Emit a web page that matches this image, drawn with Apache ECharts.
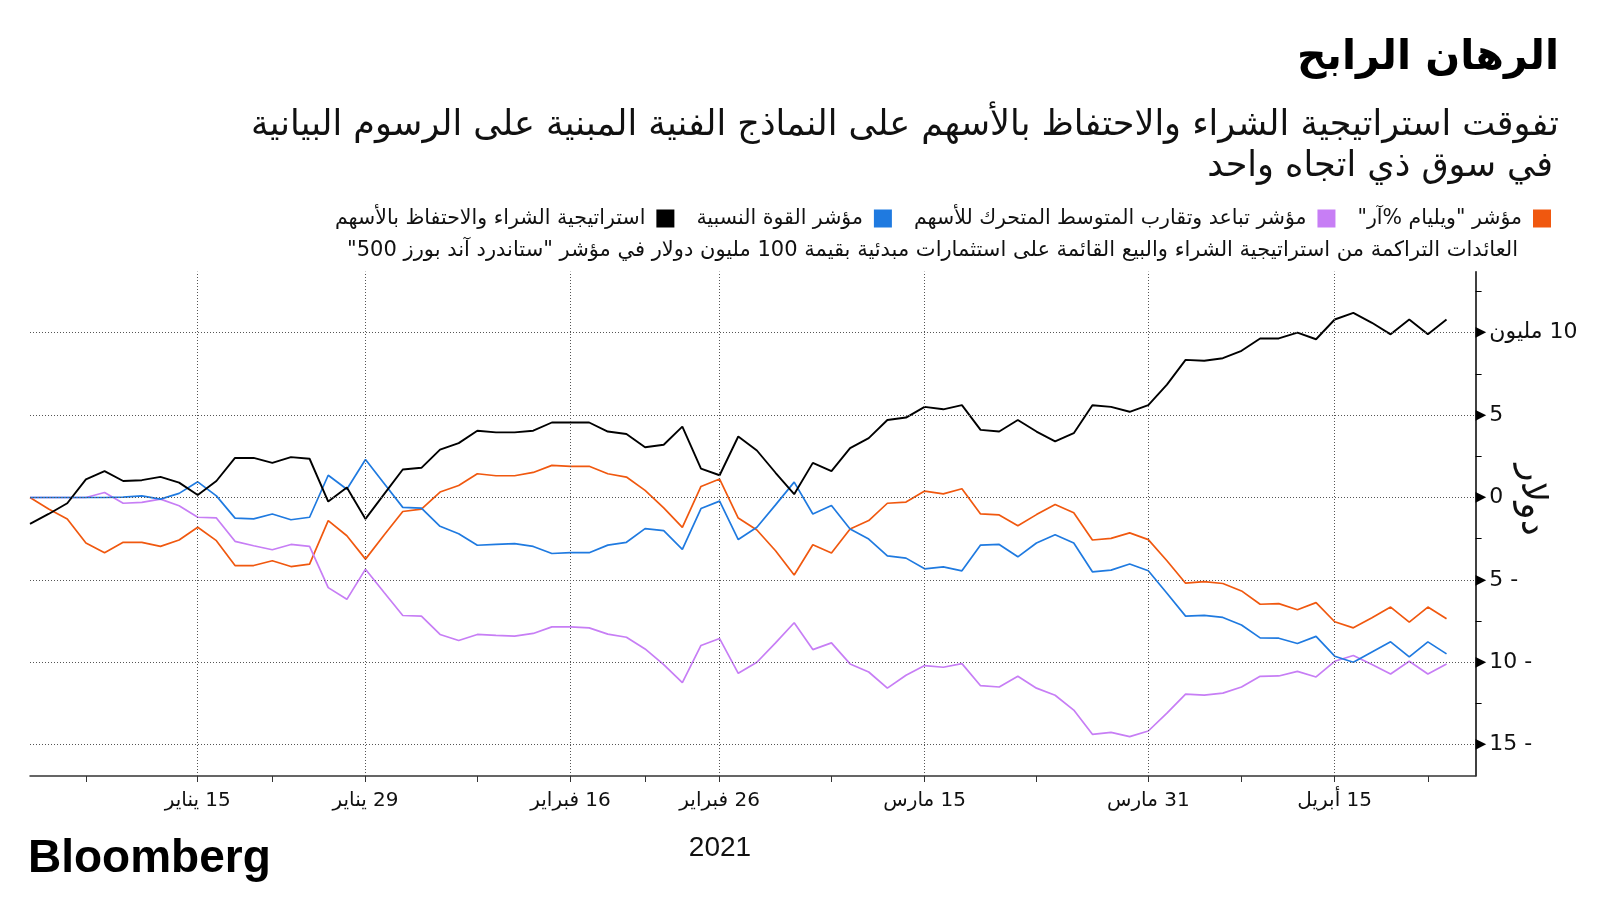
<!DOCTYPE html>
<html>
<head>
<meta charset="utf-8">
<script src="https://cdn.jsdelivr.net/npm/echarts@6/dist/echarts.min.js"></script>
<style>
html,body{margin:0;padding:0;background:#fff;}
#chart{width:1600px;height:900px;direction:rtl;}
</style>
</head>
<body>
<div id="chart"></div>
<script>
// ---------- DATA ----------
const tradingDays = [
 '2021-01-04','2021-01-05','2021-01-06','2021-01-07','2021-01-08','2021-01-11','2021-01-12','2021-01-13','2021-01-14','2021-01-15',
 '2021-01-19','2021-01-20','2021-01-21','2021-01-22','2021-01-25','2021-01-26','2021-01-27','2021-01-28','2021-01-29',
 '2021-02-01','2021-02-02','2021-02-03','2021-02-04','2021-02-05','2021-02-08','2021-02-09','2021-02-10','2021-02-11','2021-02-12',
 '2021-02-16','2021-02-17','2021-02-18','2021-02-19','2021-02-22','2021-02-23','2021-02-24','2021-02-25','2021-02-26',
 '2021-03-01','2021-03-02','2021-03-03','2021-03-04','2021-03-05','2021-03-08','2021-03-09','2021-03-10','2021-03-11','2021-03-12',
 '2021-03-15','2021-03-16','2021-03-17','2021-03-18','2021-03-19','2021-03-22','2021-03-23','2021-03-24','2021-03-25','2021-03-26',
 '2021-03-29','2021-03-30','2021-03-31',
 '2021-04-01','2021-04-05','2021-04-06','2021-04-07','2021-04-08','2021-04-09','2021-04-12','2021-04-13','2021-04-14','2021-04-15',
 '2021-04-16','2021-04-19','2021-04-20','2021-04-21','2021-04-22','2021-04-23'
];

// Buy and hold (black)
const buyHold = [
 -1.6,-1.0,-0.35,1.1,1.6,1.0,1.05,1.25,0.9,0.15,
 1.0,2.4,2.4,2.1,2.45,2.35,-0.25,0.6,-1.3,
 0.2,1.7,1.8,2.9,3.3,4.05,3.95,3.95,4.05,4.55,
 4.55,4.55,4.0,3.85,3.05,3.2,4.3,1.75,1.35,
 3.7,2.85,1.5,0.2,2.1,1.6,3.0,3.6,4.7,4.85,
 5.5,5.35,5.6,4.1,4.0,4.7,4.0,3.4,3.9,5.6,
 5.5,5.2,5.6,
 6.85,8.35,8.3,8.45,8.9,9.65,9.65,10.0,9.6,10.8,
 11.2,10.6,9.9,10.8,9.9,10.8
];

// Relative Strength Index (blue)
const rsi = [
 0,0,0,0,0,0.02,0.1,-0.1,0.25,0.95,
 0.1,-1.25,-1.3,-1.0,-1.35,-1.2,1.35,0.5,2.3,
 0.85,-0.6,-0.65,-1.75,-2.2,-2.9,-2.85,-2.8,-2.97,-3.4,
 -3.35,-3.35,-2.89,-2.72,-1.89,-2.01,-3.15,-0.67,-0.22,
 -2.55,-1.81,-0.45,0.93,-1.0,-0.49,-1.91,-2.52,-3.54,-3.68,
 -4.33,-4.21,-4.45,-2.89,-2.85,-3.6,-2.76,-2.26,-2.76,-4.51,
 -4.41,-4.04,-4.45,
 -5.81,-7.2,-7.15,-7.28,-7.74,-8.52,-8.54,-8.86,-8.43,-9.63,
 -10.0,-9.37,-8.76,-9.67,-8.76,-9.49
];

// MACD (purple)
const macd = [
 0,0,0,0,0.3,-0.35,-0.3,-0.1,-0.5,-1.2,
 -1.24,-2.66,-2.93,-3.17,-2.85,-2.97,-5.47,-6.18,-4.35,
 -5.77,-7.16,-7.2,-8.31,-8.68,-8.31,-8.37,-8.41,-8.25,-7.85,
 -7.85,-7.91,-8.29,-8.48,-9.19,-10.14,-11.24,-8.98,-8.56,
 -10.67,-10.0,-8.82,-7.6,-9.23,-8.82,-10.1,-10.59,-11.57,-10.79,
 -10.2,-10.3,-10.08,-11.42,-11.5,-10.85,-11.57,-12.0,-12.9,-14.37,
 -14.25,-14.51,-14.17,
 -13.09,-11.93,-11.99,-11.87,-11.5,-10.85,-10.83,-10.55,-10.89,-9.94,
 -9.59,-10.14,-10.71,-9.94,-10.71,-10.1
];

// Williams %R (orange)
const williams = [
 0,-0.7,-1.3,-2.76,-3.35,-2.72,-2.72,-2.97,-2.58,-1.81,
 -2.62,-4.13,-4.13,-3.84,-4.19,-4.04,-1.4,-2.32,-3.74,
 -2.28,-0.85,-0.71,0.33,0.73,1.44,1.32,1.32,1.52,1.95,
 1.89,1.89,1.44,1.24,0.43,-0.63,-1.81,0.67,1.12,
 -1.25,-1.97,-3.23,-4.7,-2.87,-3.37,-1.91,-1.4,-0.35,-0.28,
 0.39,0.22,0.53,-1.0,-1.06,-1.71,-1.04,-0.43,-0.93,-2.58,
 -2.48,-2.15,-2.56,
 -3.84,-5.2,-5.1,-5.22,-5.67,-6.48,-6.44,-6.81,-6.38,-7.54,
 -7.91,-7.3,-6.65,-7.56,-6.65,-7.36
];

const seriesNames = [
 'استراتيجية الشراء والاحتفاظ بالأسهم',
 'مؤشر القوة النسبية',
 'مؤشر تباعد وتقارب المتوسط المتحرك للأسهم',
 'مؤشر "ويليام %آر"'
];

const xLabelDates = ['2021-01-15','2021-01-29','2021-02-16','2021-02-26','2021-03-15','2021-03-31','2021-04-15'];
const xLabelTexts = ['15 يناير','29 يناير','16 فبراير','26 فبراير','15 مارس','31 مارس','15 أبريل'];
const xMinorTickDates = ['2021-01-07','2021-01-22','2021-02-08','2021-02-22','2021-03-08','2021-03-23','2021-04-08','2021-04-22'];

const yLabelValues = [-15,-10,-5,0,5,10];
const yMinorTickValues = [-12.5,-7.5,-2.5,2.5,7.5,12.5];

const titleText = 'الرهان الرابح';
const subtitle1 = 'تفوقت استراتيجية الشراء والاحتفاظ بالأسهم على النماذج الفنية المبنية على الرسوم البيانية';
const subtitle2 = 'في سوق ذي اتجاه واحد';
const noteText = 'العائدات التراكمة من استراتيجية الشراء والبيع القائمة على استثمارات مبدئية بقيمة 100 مليون دولار في مؤشر "ستاندرد آند بورز 500"';
const yAxisTitle = 'دولار';
const yearText = '2021';
const sourceText = 'Bloomberg';

// ---------- BUILD ----------
const idx = d => tradingDays.indexOf(d);
const xLabelIdx = xLabelDates.map(idx);
const xTickIdx = xLabelIdx.concat(xMinorTickDates.map(idx)).sort((a,b)=>a-b);
const toPairs = arr => arr.map((v,i)=>[i,v]);

const AR = "'DejaVu Sans', sans-serif";
const colors = {buy:'#000000', rsi:'#1f7ae0', macd:'#c77ef5', wil:'#f0580f'};

const chart = echarts.init(document.getElementById('chart'), null, {renderer:'canvas'});

const gridLineStyle = {type:[1,2], color:'#555', width:1};

const option = {
  backgroundColor:'#ffffff',
  animation:false,
  title:[
    {text:titleText, right:41, top:38, padding:0, textStyle:{fontFamily:AR, fontWeight:'bold', fontSize:41, color:'#000'}},
    {text:subtitle1, right:41, top:108, padding:0, textStyle:{fontFamily:AR, fontWeight:'normal', fontSize:35, color:'#111'}},
    {text:subtitle2, right:47, top:149, padding:0, textStyle:{fontFamily:AR, fontWeight:'normal', fontSize:35, color:'#111'}},
    {text:noteText, right:82, top:240, padding:0, textStyle:{fontFamily:AR, fontWeight:'normal', fontSize:21, color:'#111'}},
    {text:sourceText, left:28, top:836, padding:0, textStyle:{fontFamily:"'Liberation Sans', Arial, sans-serif", fontWeight:'bold', fontSize:46, color:'#000'}},
    {text:yearText, left:720, textAlign:'center', top:834, padding:0, textStyle:{fontFamily:"'Liberation Sans', Arial, sans-serif", fontWeight:'normal', fontSize:28, color:'#111'}}
  ],
  legend:{
    data:seriesNames,
    right:49, top:208, padding:0,
    align:'right',
    icon:'rect',
    itemWidth:18, itemHeight:18, itemGap:22,
    textStyle:{fontFamily:AR, fontSize:20.5, color:'#111', padding:[0,6,0,0]},
    selectedMode:false
  },
  graphic:[
    {type:'text', x:1531, y:500, rotation:-Math.PI/2,
     style:{text:yAxisTitle, fontFamily:AR, fontSize:36, fill:'#111', align:'center', verticalAlign:'middle'}}
  ],
  grid:{left:30, right:124.4, top:271.7, bottom:124, containLabel:false},
  xAxis:{
    type:'value', min:0, max:77.56,
    axisLine:{show:true, onZero:false, lineStyle:{color:'#333', width:1.5}},
    axisTick:{show:true, customValues:xTickIdx, length:6, lineStyle:{color:'#333', width:1}},
    axisLabel:{show:true, customValues:xLabelIdx, margin:15,
      formatter:v => xLabelTexts[xLabelIdx.indexOf(Math.round(v))] || '',
      fontFamily:AR, fontSize:20, color:'#111'},
    splitLine:{show:false}
  },
  yAxis:{
    type:'value', position:'right', min:-16.9, max:13.7,
    axisLine:{show:true, onZero:false, lineStyle:{color:'#000', width:1.5}},
    axisTick:{show:true, customValues:yMinorTickValues, length:6, lineStyle:{color:'#000', width:1}},
    axisLabel:{show:true, customValues:yLabelValues, margin:0, align:'left',
      formatter:v => {
        let t;
        if (v === 10) t = '10 مليون';
        else if (v < 0) t = '- ' + (-v);
        else t = String(v);
        return '{t|▶}{v|' + t + '}';
      },
      rich:{
        t:{fontSize:14, color:'#000', padding:[0,3,0,0], fontFamily:'DejaVu Sans'},
        v:{fontSize:22, color:'#111', fontFamily:AR}
      }
    },
    splitLine:{show:false}
  },
  series:[
    {type:'line', name:'grid', data:[], silent:true, z:1,
     markLine:{silent:true, symbol:'none', label:{show:false}, lineStyle:gridLineStyle, animation:false,
       data: xLabelIdx.map(i=>({xAxis:i})).concat(yLabelValues.map(v=>({yAxis:v})))}},
    {type:'line', name:seriesNames[3], data:toPairs(williams), showSymbol:false, symbol:'none', z:3,
     lineStyle:{color:colors.wil, width:1.7}, itemStyle:{color:colors.wil}},
    {type:'line', name:seriesNames[2], data:toPairs(macd), showSymbol:false, symbol:'none', z:3,
     lineStyle:{color:colors.macd, width:1.7}, itemStyle:{color:colors.macd}},
    {type:'line', name:seriesNames[1], data:toPairs(rsi), showSymbol:false, symbol:'none', z:3,
     lineStyle:{color:colors.rsi, width:1.7}, itemStyle:{color:colors.rsi}},
    {type:'line', name:seriesNames[0], data:toPairs(buyHold), showSymbol:false, symbol:'none', z:4,
     lineStyle:{color:colors.buy, width:1.9}, itemStyle:{color:colors.buy}}
  ]
};
chart.setOption(option);
</script>
</body>
</html>
